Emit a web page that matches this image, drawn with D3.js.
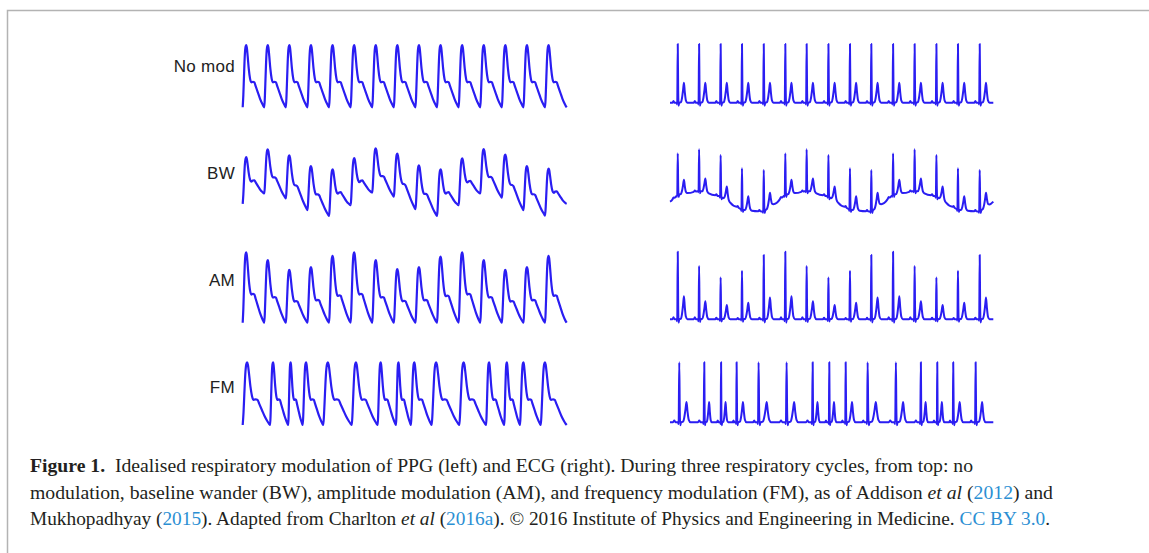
<!DOCTYPE html>
<html>
<head>
<meta charset="utf-8">
<script src="https://cdn.jsdelivr.net/npm/d3@7"></script>
<style>
  html, body { margin: 0; padding: 0; background: #fff; }
  svg { display: block; }
</style>
</head>
<body>
<svg id="fig" width="1149" height="553"></svg>
<script>
// row labels, top to bottom
var rowLabels = ["No mod", "BW", "AM", "FM"];

// one PPG pulse, foot to foot (phase 0..1)
var ppgPhase = [0, 0.03, 0.06, 0.1, 0.13, 0.16, 0.19, 0.23, 0.28, 0.34, 0.4, 0.47, 0.54, 0.6, 0.7, 0.8, 0.9, 0.96, 1];
var ppgShape = [0, 0.2, 0.5, 0.85, 0.97, 1, 0.96, 0.82, 0.62, 0.46, 0.4, 0.41, 0.4, 0.34, 0.24, 0.14, 0.06, 0.02, 0];

// one ECG beat, R wave (phase 0) up to just before the next R wave
var ecgPhase = [0, 0.02, 0.04, 0.07, 0.15, 0.2, 0.25, 0.29, 0.33, 0.38, 0.45, 0.75, 0.8, 0.85, 0.95, 0.975];
var ecgShape = [1, 0.2, -0.05, 0, 0.01, 0.08, 0.22, 0.34, 0.18, 0.04, 0, 0, 0.03, 0, 0, -0.03];

// PPG beat onsets (time in beats, trace runs 0..15)
var ppgEnd = 15;
var ppgOnsets = [0, 1, 2, 3, 4, 5, 6, 7, 8, 9, 10, 11, 12, 13, 14];
var ppgOnsetsFM = [0, 1.27, 2.11, 2.78, 3.73, 5.05, 6.25, 7.1, 7.79, 8.75, 10.03, 11.27, 12.11, 12.84, 13.8];
// baseline wander: foot level at each onset, last one at the end of the trace
var ppgBaseBW = [0.27, 0.5, 0.39, 0.13, 0, 0.24, 0.52, 0.43, 0.15, 0, 0.24, 0.5, 0.41, 0.13, 0.01, 0.27];
// amplitude modulation: pulse height per beat
var ppgAmpAM = [1, 0.89, 0.75, 0.79, 0.95, 1, 0.89, 0.76, 0.79, 0.94, 1, 0.89, 0.75, 0.79, 0.95];

// ECG R wave times (same time axis, 0..15)
var ecgEnd = 15;
var ecgR = [0.36, 1.35, 2.35, 3.34, 4.35, 5.35, 6.34, 7.35, 8.35, 9.34, 10.35, 11.35, 12.36, 13.36, 14.37];
var ecgRFM = [0.43, 1.59, 2.37, 3.09, 4.11, 5.41, 6.62, 7.39, 8.15, 9.17, 10.48, 11.64, 12.4, 13.14, 14.18];
// baseline at trace start, at each R, and at trace end
var ecgBaseBW = [0.28, 0.44, 0.54, 0.4, 0.08, 0.04, 0.44, 0.54, 0.4, 0.08, 0.04, 0.44, 0.54, 0.4, 0.08, 0.04, 0.28];
var ecgAmpAM = [1, 0.79, 0.62, 0.72, 0.95, 1, 0.79, 0.62, 0.72, 0.95, 1, 0.79, 0.62, 0.72, 0.95];

// caption, one array per line: [text, style]
var captionLines = [
  [["Figure 1.", "b"], ["  Idealised respiratory modulation of PPG (left) and ECG (right). During three respiratory cycles, from top: no", ""]],
  [["modulation, baseline wander (BW), amplitude modulation (AM), and frequency modulation (FM), as of Addison ", ""], ["et al", "i"], [" (", ""], ["2012", "a"], [") and", ""]],
  [["Mukhopadhyay (", ""], ["2015", "a"], ["). Adapted from Charlton ", ""], ["et al", "i"], [" (", ""], ["2016a", "a"], ["). \u00a9 2016 Institute of Physics and Engineering in Medicine. ", ""], ["CC BY 3.0", "a"], [".", ""]]
];

// ---- build the traces ----
function ppgTrace(onsets, amps, bases) {
  var knots = onsets.concat([ppgEnd]);
  var base = d3.scaleLinear().domain(knots).range(bases || knots.map(() => 0));
  var pts = [];
  onsets.forEach((t0, k) => {
    var t1 = knots[k + 1];
    var a = amps ? amps[k] : 1;
    ppgPhase.forEach((p, i) => {
      if (i == ppgPhase.length - 1 && k < onsets.length - 1) return;
      var t = t0 + p * (t1 - t0);
      pts.push({ t: t, v: base(t) + a * ppgShape[i] });
    });
  });
  return pts;
}

function ecgTrace(rs, amps, bases) {
  var n = rs.length;
  var knots = [0].concat(rs, [ecgEnd]);
  var base = d3.scaleLinear().domain(knots).range(bases || knots.map(() => 0));
  var pts = [{ t: 0, v: base(0) }];
  for (var k = -1; k < n; k++) {
    var r0 = k < 0 ? rs[0] - (rs[1] - rs[0]) : rs[k];
    var r1 = k < n - 1 ? rs[k + 1] : rs[n - 1] + (rs[n - 1] - rs[n - 2]);
    var a = amps ? amps[Math.max(k, 0)] : 1;
    ecgPhase.forEach((p, i) => {
      var t = r0 + p * (r1 - r0);
      if (t > 0 && t < ecgEnd) pts.push({ t: t, v: base(t) + a * ecgShape[i] });
    });
  }
  pts.push({ t: ecgEnd, v: base(ecgEnd) });
  return pts;
}

var rows = [
  { ppg: ppgTrace(ppgOnsets), ecg: ecgTrace(ecgR) },
  { ppg: ppgTrace(ppgOnsets, null, ppgBaseBW), ecg: ecgTrace(ecgR, null, ecgBaseBW) },
  { ppg: ppgTrace(ppgOnsets, ppgAmpAM), ecg: ecgTrace(ecgR, ecgAmpAM) },
  { ppg: ppgTrace(ppgOnsetsFM), ecg: ecgTrace(ecgRFM) }
];

// ---- layout (pixels) ----
var ppgX = d3.scaleLinear().domain([0, ppgEnd]).range([242.7, 566.7]);
var ecgX = d3.scaleLinear().domain([0, ecgEnd]).range([670, 993.3]);
// y pixel of value 0 and value 1, per row
var ppgY = [[107.3, 45], [216, 171], [322.7, 252.3], [425, 362.3]];
var ecgY = [[102.7, 44], [213.3, 171.7], [319.3, 251.7], [422.3, 362.3]];
var labelY = [66, 172.7, 280, 386.7];

var svg = d3.select("#fig");

// frame, left + top edges only
svg.append("path")
  .attr("d", "M7.5,553V10.5H1149")
  .attr("fill", "none")
  .attr("stroke", "#b3b3b3")
  .attr("stroke-width", 1.5);

var blue = "#2a1df2";

rows.forEach((row, i) => {
  var yp = d3.scaleLinear().domain([0, 1]).range(ppgY[i]);
  var ye = d3.scaleLinear().domain([0, 1]).range(ecgY[i]);

  svg.append("path")
    .datum(row.ppg)
    .attr("fill", "none")
    .attr("stroke", blue)
    .attr("stroke-width", 2.2)
    .attr("stroke-linejoin", "round")
    .attr("d", d3.line().x(d => ppgX(d.t)).y(d => yp(d.v)).curve(d3.curveMonotoneX));

  svg.append("path")
    .datum(row.ecg)
    .attr("fill", "none")
    .attr("stroke", blue)
    .attr("stroke-width", 2)
    .attr("stroke-linejoin", "round")
    .attr("d", d3.line().x(d => ecgX(d.t)).y(d => ye(d.v)).curve(d3.curveMonotoneX));

  svg.append("text")
    .attr("x", 235)
    .attr("y", labelY[i])
    .attr("dy", "0.35em")
    .attr("text-anchor", "end")
    .attr("font-family", "Liberation Sans, Arial, sans-serif")
    .attr("font-size", 17)
    .attr("letter-spacing", 0.3)
    .attr("fill", "#222")
    .text(rowLabels[i]);
});

// caption
var capY = [472, 498.5, 525];
var capW = [943, 1023, 1020];
captionLines.forEach((line, i) => {
  var t = svg.append("text")
    .attr("x", 30)
    .attr("y", capY[i])
    .attr("font-family", "Liberation Serif, Times New Roman, serif")
    .attr("font-size", 18)
    .attr("fill", "#231f20")
    .attr("textLength", capW[i])
    .attr("lengthAdjust", "spacingAndGlyphs")
    .style("white-space", "pre");
  line.forEach(seg => {
    var s = t.append("tspan").text(seg[0]);
    if (seg[1] == "b") s.attr("font-weight", "bold");
    if (seg[1] == "i") s.attr("font-style", "italic");
    if (seg[1] == "a") s.attr("fill", "#2b8fd3");
  });
});
</script>
</body>
</html>
